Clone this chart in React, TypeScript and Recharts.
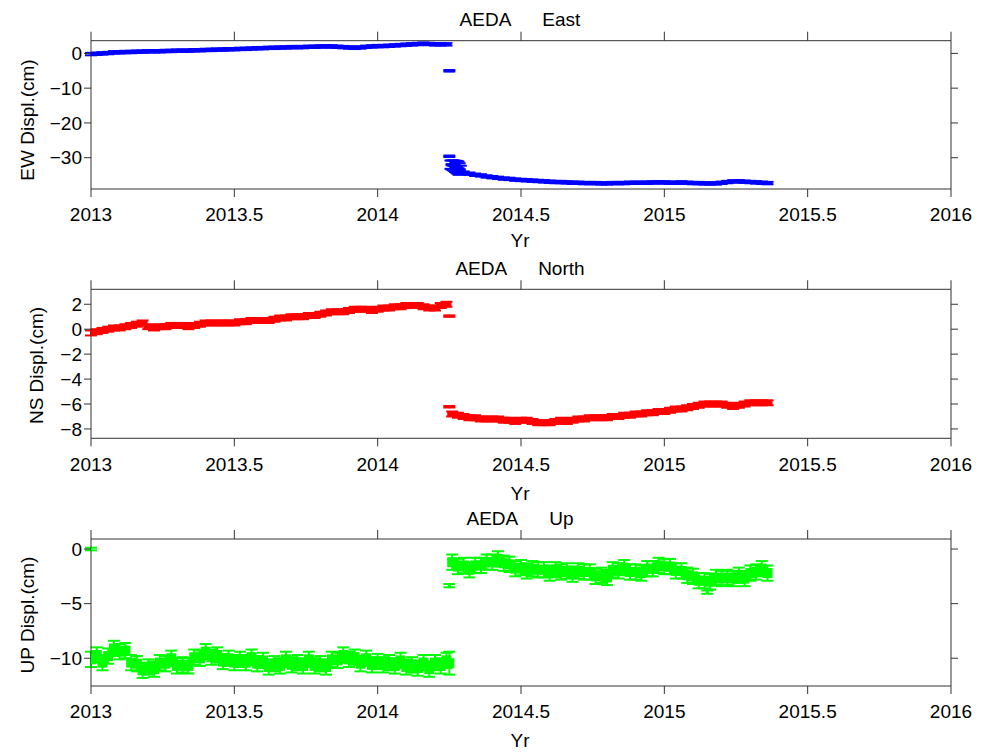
import { ScatterChart, Scatter, XAxis, YAxis, ErrorBar } from "recharts"

const FONT = '"Liberation Sans", Arial, Helvetica, sans-serif'
const AXIS = "#333"

const xTicks = [2013, 2013.5, 2014, 2014.5, 2015, 2015.5, 2016]

// sampling epochs (decimal year), one solution every 0.02 yr
function epochs(start: number, n: number) {
  return Array.from({ length: n }, (_, i) => +(start + i * 0.02).toFixed(3))
}
const preYears = epochs(2013, 63) // 2013.00 .. 2014.24
const postYears = epochs(2014.26, 56) // 2014.26 .. 2015.36

// ---- East (cm)
const eastPre = [
  -0.2, -0.1, 0.0, 0.1, 0.3, 0.3, 0.4, 0.4, 0.5, 0.5,
  0.6, 0.6, 0.6, 0.7, 0.7, 0.8, 0.8, 0.8, 0.9, 0.9,
  1.0, 1.0, 1.1, 1.1, 1.2, 1.2, 1.3, 1.3, 1.4, 1.5,
  1.5, 1.6, 1.6, 1.7, 1.7, 1.8, 1.8, 1.8, 1.9, 1.9,
  2.0, 2.0, 2.0, 1.9, 1.8, 1.7, 1.6, 1.7, 1.9, 2.0,
  2.1, 2.1, 2.2, 2.3, 2.4, 2.5, 2.6, 2.7, 2.8, 2.7, 2.6, 2.6, 2.6,
]
const eastRapidYears = [2014.254, 2014.258, 2014.262, 2014.266, 2014.27, 2014.274, 2014.278, 2014.282, 2014.286, 2014.29]
const eastRapid = [-32.0, -32.1, -32.2, -32.3, -32.5, -32.6, -32.8, -33.0, -33.2, -33.5]
const eastRapidErr = [1.2, 1.3, 1.4, 1.5, 1.6, 1.7, 1.8, 1.9, 1.6, 1.2]
const eastPost = [
  -34.3, -34.6, -34.9, -35.1, -35.4, -35.6, -35.8, -36.0, -36.1, -36.3,
  -36.4, -36.5, -36.6, -36.7, -36.8, -36.9, -37.0, -37.0, -37.1, -37.2,
  -37.2, -37.3, -37.3, -37.3, -37.4, -37.4, -37.3, -37.3, -37.3, -37.2,
  -37.2, -37.2, -37.2, -37.1, -37.1,
  -37.1, -37.2, -37.2, -37.1, -37.2, -37.3, -37.3, -37.4, -37.4, -37.4,
  -37.2, -37.0, -36.8, -36.8, -36.9, -37.0, -37.1, -37.2, -37.3,
]
const eastOddYears = [2014.25, 2014.25]
const eastOdd = [-5.0, -29.6]

// ---- North (cm)
const northPre = [
  -0.3, -0.2, -0.1, 0.0, 0.1, 0.1, 0.2, 0.3, 0.4, 0.5,
  0.2, 0.1, 0.2, 0.2, 0.3, 0.3, 0.3, 0.2, 0.3, 0.4,
  0.5, 0.5, 0.5, 0.5, 0.5, 0.5, 0.6, 0.6, 0.7, 0.7,
  0.7, 0.7, 0.8, 0.9, 0.9, 1.0, 1.0, 1.0, 1.1, 1.1,
  1.2, 1.3, 1.4, 1.4, 1.4, 1.5, 1.6, 1.6, 1.6, 1.5,
  1.6, 1.7, 1.7, 1.8, 1.8, 1.9, 1.9, 1.9, 1.8, 1.7, 1.7, 1.9, 2.0,
]
const northPost = [
  -6.8, -6.9, -7.0, -7.1, -7.1, -7.2, -7.2, -7.2, -7.2, -7.3,
  -7.3, -7.4, -7.3, -7.3, -7.4, -7.5, -7.5, -7.5, -7.4, -7.3,
  -7.4, -7.3, -7.2, -7.2, -7.1, -7.1, -7.1, -7.1, -7.0, -7.0,
  -6.9, -6.9, -6.8, -6.8, -6.7, -6.7, -6.6,
  -6.6, -6.5, -6.4, -6.4, -6.3, -6.2, -6.1, -6.0, -6.0, -6.0,
  -6.0, -6.1, -6.2, -6.1, -6.0, -5.9, -5.9, -5.9, -5.9,
]
const northOddYears = [2014.25, 2014.25]
const northOdd = [1.05, -6.22]

// ---- Up (cm)
const upPre = [
  -10.1, -9.7, -10.4, -9.8, -9.1, -9.4, -9.3, -10.4, -10.5, -11.1,
  -10.8, -11.0, -10.4, -10.5, -10.0, -10.7, -10.6, -10.7, -9.9, -10.0,
  -9.4, -9.9, -9.7, -10.3, -10.0, -10.4, -10.1, -10.4, -9.9, -10.5,
  -10.2, -10.8, -10.5, -10.7, -10.1, -10.6, -10.4, -10.7, -10.1, -10.7,
  -10.5, -10.8, -10.1, -10.2, -9.7, -10.1, -9.9, -10.5, -10.0, -10.6,
  -10.3, -10.6, -10.4, -10.7, -10.2, -10.8, -10.6, -10.9, -10.4, -11.0, -10.4, -10.7, -10.2,
]
const upPost = [
  -1.2, -1.6, -1.5, -1.9, -1.5, -1.5, -1.2, -1.2, -0.9, -1.3,
  -1.4, -1.8, -1.7, -2.0, -1.8, -1.9, -1.9, -2.2, -1.9, -2.1,
  -2.0, -2.3, -2.0, -2.1, -2.1, -2.5, -2.4, -2.6, -1.9, -2.0,
  -1.7, -2.1, -2.1, -2.2, -1.8, -1.8, -1.5,
  -1.6, -1.6, -2.0, -2.0, -2.4, -2.5, -2.9, -2.9, -3.0, -2.6,
  -2.7, -2.6, -2.7, -2.4, -2.7, -2.2, -2.1, -1.8, -2.2,
]
const upOddYears = [2013.0, 2014.25, 2014.25, 2015.15]
const upOdd = [0.0, -10.45, -3.35, -3.95]
const upOddErr = [0.12, 1.05, 0.15, 0.15]

type Pt = { x: number; y: number; e: number }

function pts(xs: number[], ys: number[], err: number | number[]): Pt[] {
  return ys.map((y, i) => ({ x: xs[i], y, e: Array.isArray(err) ? err[i] : err }))
}

const eastData = [
  ...pts(preYears, eastPre, 0.35),
  ...pts(eastOddYears, eastOdd, 0.2),
  ...pts(eastRapidYears, eastRapid, eastRapidErr),
  ...pts(postYears.slice(2), eastPost, 0.35),
]
const northData = [
  ...pts(preYears, northPre, 0.2),
  ...pts(northOddYears, northOdd, 0.06),
  ...pts(postYears, northPost, 0.2),
]
const upData = [
  ...pts(preYears, upPre, 0.7),
  ...pts(upOddYears, upOdd, upOddErr),
  ...pts(postYears, upPost, 0.7),
]

const minus = (v: number) => String(v).replace("-", "\u2212")
const blank = () => ""

interface PanelProps {
  top: number
  height: number
  plotTop: number
  plotBottom: number
  domain: [number, number]
  yTicks: number[]
  data: Pt[]
  color: string
  markH: number
  title: string
  yLabel: string
  yLabelX: number
  yLabelY: number
  yrY: number
}

function Panel(p: PanelProps) {
  const left = 91
  const right = 951
  const mid = 520
  const margin = {
    top: p.plotTop - 9,
    right: 994 - right - 20,
    bottom: p.height - p.plotBottom - 30,
    left: left - 60,
  }
  const tickStyle = { fontSize: 19, fill: "#000", fontFamily: FONT }

  return (
    <div style={{ position: "absolute", left: 0, top: p.top }}>
      <ScatterChart width={994} height={p.height} margin={margin}>
        <XAxis
          xAxisId="b"
          dataKey="x"
          type="number"
          orientation="bottom"
          domain={[2013, 2016]}
          ticks={xTicks}
          interval={0}
          allowDataOverflow
          height={30}
          tickSize={8}
          tickMargin={11}
          stroke={AXIS}
          tick={tickStyle}
          label={() => (
            <text x={mid} y={p.yrY} textAnchor="middle" fontSize={19} fontFamily={FONT} fill="#000">
              Yr
            </text>
          )}
        />
        <XAxis
          xAxisId="t"
          dataKey="x"
          type="number"
          orientation="top"
          domain={[2013, 2016]}
          ticks={xTicks}
          interval={0}
          allowDataOverflow
          height={9}
          tickSize={9}
          stroke={AXIS}
          tickFormatter={blank}
          label={() => (
            <text x={mid} y={p.plotTop - 14.5} textAnchor="middle" fontSize={19} fontFamily={FONT} fill="#000">
              <tspan>AEDA</tspan>
              <tspan dx={31}>{p.title}</tspan>
            </text>
          )}
        />
        <YAxis
          yAxisId="l"
          dataKey="y"
          type="number"
          domain={p.domain}
          ticks={p.yTicks}
          interval={0}
          allowDataOverflow
          width={60}
          tickSize={7}
          tickMargin={2}
          stroke={AXIS}
          tick={tickStyle}
          tickFormatter={minus}
          label={() => (
            <text
              x={p.yLabelX}
              y={p.yLabelY}
              textAnchor="middle"
              fontSize={19}
              fontFamily={FONT}
              fill="#000"
              transform={`rotate(-90 ${p.yLabelX} ${p.yLabelY})`}
            >
              {p.yLabel}
            </text>
          )}
        />
        <YAxis
          yAxisId="r"
          orientation="right"
          type="number"
          domain={p.domain}
          ticks={p.yTicks}
          interval={0}
          allowDataOverflow
          width={20}
          tickSize={7}
          stroke={AXIS}
          tickFormatter={blank}
        />
        <Scatter
          xAxisId="b"
          yAxisId="l"
          data={p.data}
          fill={p.color}
          isAnimationActive={false}
          shape={(s: any) => {
            // isolated solutions with tiny sigmas only get a small dot
            const small = s.payload && s.payload.e < 0.18
            return small ? (
              <circle cx={s.cx} cy={s.cy} r={1.5} fill={p.color} />
            ) : (
              <rect x={s.cx - 5} y={s.cy - p.markH / 2} width={10} height={p.markH} fill={p.color} />
            )
          }}
        >
          {/* width is the half-length of each cap */}
          <ErrorBar
            dataKey="e"
            direction="y"
            width={6}
            stroke={p.color}
            strokeWidth={2}
            isAnimationActive={false}
          />
        </Scatter>
      </ScatterChart>
    </div>
  )
}

export default function App() {
  return (
    <div style={{ position: "relative", width: 994, height: 752, background: "#fff", fontFamily: FONT }}>
      <style>{"body{margin:0}"}</style>
      <Panel
        top={0}
        height={250}
        plotTop={40.7}
        plotBottom={189}
        domain={[-39, 3.65]}
        yTicks={[0, -10, -20, -30]}
        data={eastData}
        color="#0000ff"
        markH={3}
        title="East"
        yLabel="EW Displ.(cm)"
        yLabelX={33.5}
        yLabelY={120}
        yrY={247}
      />
      <Panel
        top={250}
        height={262}
        plotTop={39.3}
        plotBottom={188.3}
        domain={[-8.75, 3.2]}
        yTicks={[2, 0, -2, -4, -6, -8]}
        data={northData}
        color="#ff0000"
        markH={5}
        title="North"
        yLabel="NS Displ.(cm)"
        yLabelX={43}
        yLabelY={115.5}
        yrY={250}
      />
      <Panel
        top={500}
        height={252}
        plotTop={39}
        plotBottom={186}
        domain={[-12.54, 0.92]}
        yTicks={[0, -5, -10]}
        data={upData}
        color="#00ff00"
        markH={10}
        title="Up"
        yLabel="UP Displ.(cm)"
        yLabelX={33.5}
        yLabelY={115}
        yrY={247}
      />
    </div>
  )
}
